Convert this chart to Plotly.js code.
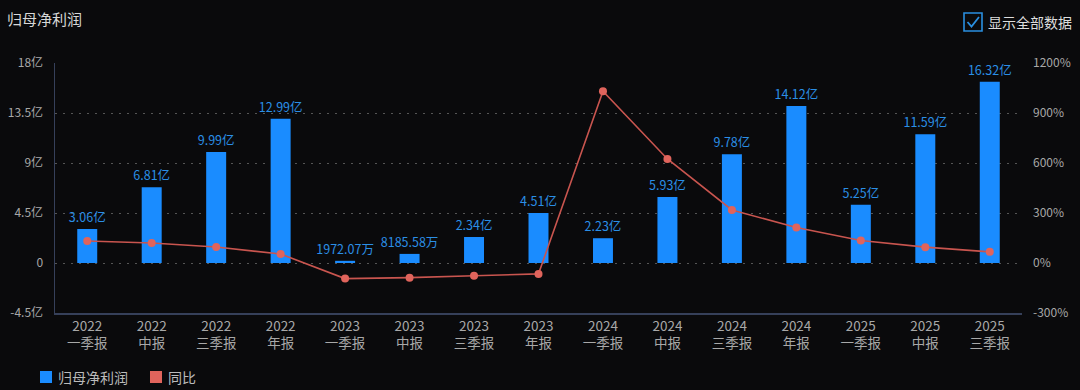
<!DOCTYPE html>
<html>
<head>
<meta charset="utf-8">
<script src="https://cdn.plot.ly/plotly-3.0.1.min.js"></script>
<style>
html,body{margin:0;padding:0;background:#0a0a0c;}
#chart{width:1080px;height:390px;}
</style>
</head>
<body>
<div id="chart"></div>
<script>
const categories = ["2022<br>一季报","2022<br>中报","2022<br>三季报","2022<br>年报","2023<br>一季报","2023<br>中报","2023<br>三季报","2023<br>年报","2024<br>一季报","2024<br>中报","2024<br>三季报","2024<br>年报","2025<br>一季报","2025<br>中报","2025<br>三季报"];
const profitYi = [3.06, 6.81, 9.99, 12.99, 0.197207, 0.818558, 2.34, 4.51, 2.23, 5.93, 9.78, 14.12, 5.25, 11.59, 16.32];
const profitLabels = ["3.06亿","6.81亿","9.99亿","12.99亿","1972.07万","8185.58万","2.34亿","4.51亿","2.23亿","5.93亿","9.78亿","14.12亿","5.25亿","11.59亿","16.32亿"];
const yoyPct = [132, 120, 96, 54, -93.6, -88, -76.6, -65.3, 1031, 624, 318, 213, 135, 95, 66.9];
const leftTickVals = [-4.5, 0, 4.5, 9, 13.5, 18];
const leftTickText = ["-4.5亿", "0", "4.5亿", "9亿", "13.5亿", "18亿"];
const rightTickVals = [-300, 0, 300, 600, 900, 1200];
const rightTickText = ["-300%", "0%", "300%", "600%", "900%", "1200%"];

const FONT = "'Noto Sans CJK SC', 'Noto Sans', sans-serif";
const BLUE = "#1a8cff";
const RED = "#e0645c";

const traces = [
  {
    type: "bar", x: categories, y: profitYi, name: "归母净利润",
    marker: {color: BLUE}, width: 0.31,
    text: profitLabels, textposition: "outside", cliponaxis: false, constraintext: "none",
    textfont: {color: "#2b8fe6", size: 12.5, family: FONT},
    hoverinfo: "x+text", showlegend: false
  },
  {
    type: "scatter", mode: "lines+markers", x: categories, y: yoyPct, yaxis: "y2", name: "同比",
    line: {color: "#c9554f", width: 1.6},
    marker: {color: RED, size: 8},
    showlegend: false
  }
];

const plotW = 1080 - 55 - 58, plotH = 390 - 63 - 77;
function px(x){return (x - 55) / plotW;}
function py(y){return (390 - 77 - y) / plotH;}

const layout = {
  width: 1080, height: 390,
  paper_bgcolor: "#0a0a0c", plot_bgcolor: "#0a0a0c",
  margin: {l: 55, r: 58, t: 63, b: 77},
  font: {family: FONT, color: "#aaaaaa", size: 12},
  xaxis: {
    range: [-0.5, categories.length - 0.5],
    showgrid: false, showline: true, linecolor: "#36405a", linewidth: 1.5,
    tickfont: {size: 13.5, color: "#a8a8a8", family: FONT},
    ticks: "", zeroline: false, fixedrange: true
  },
  yaxis: {
    range: [-4.5, 18], tickvals: leftTickVals, ticktext: leftTickText,
    showgrid: true, gridcolor: "#555555", griddash: "2px,6px", gridwidth: 1,
    zeroline: false, showline: true, linecolor: "#36405a", linewidth: 1.5,
    tickfont: {size: 12, color: "#a8a8a8", family: FONT}, ticklabelstandoff: 8,
    ticks: ""
  },
  yaxis2: {
    overlaying: "y", side: "right", range: [-300, 1200],
    tickvals: rightTickVals, ticktext: rightTickText,
    showgrid: false, zeroline: false, showline: false,
    tickfont: {size: 12, color: "#a8a8a8", family: FONT}, ticklabelstandoff: 10,
    ticks: ""
  },
  showlegend: false,
  shapes: [
    {type: "rect", xref: "paper", yref: "paper", x0: px(964), x1: px(982), y0: py(31), y1: py(13),
     line: {color: "#2a8fe0", width: 1.6}, fillcolor: "rgba(0,0,0,0)"},
    {type: "path", xref: "paper", yref: "paper",
     path: `M ${px(967.5)} ${py(22)} L ${px(971.5)} ${py(26.5)} L ${px(979)} ${py(17)}`,
     line: {color: "#2a8fe0", width: 1.8}},
    {type: "rect", xref: "paper", yref: "paper", x0: px(40), x1: px(52), y0: py(383), y1: py(371),
     line: {width: 0}, fillcolor: BLUE},
    {type: "rect", xref: "paper", yref: "paper", x0: px(150), x1: px(162), y0: py(383), y1: py(371),
     line: {width: 0}, fillcolor: RED}
  ],
  annotations: [
    {xref: "paper", yref: "paper", x: px(5), y: py(18), xanchor: "left", yanchor: "middle",
     text: "归母净利润", showarrow: false, font: {size: 15, color: "#d8d8d8", family: FONT}},
    {xref: "paper", yref: "paper", x: px(1074), y: py(22), xanchor: "right", yanchor: "middle",
     text: "显示全部数据", showarrow: false, font: {size: 14, color: "#dddddd", family: FONT}},
    {xref: "paper", yref: "paper", x: px(56), y: py(377), xanchor: "left", yanchor: "middle",
     text: "归母净利润", showarrow: false, font: {size: 14, color: "#bbbbbb", family: FONT}},
    {xref: "paper", yref: "paper", x: px(166), y: py(377), xanchor: "left", yanchor: "middle",
     text: "同比", showarrow: false, font: {size: 14, color: "#bbbbbb", family: FONT}}
  ]
};

Plotly.newPlot("chart", traces, layout, {displayModeBar: false, staticPlot: true});
</script>
</body>
</html>
